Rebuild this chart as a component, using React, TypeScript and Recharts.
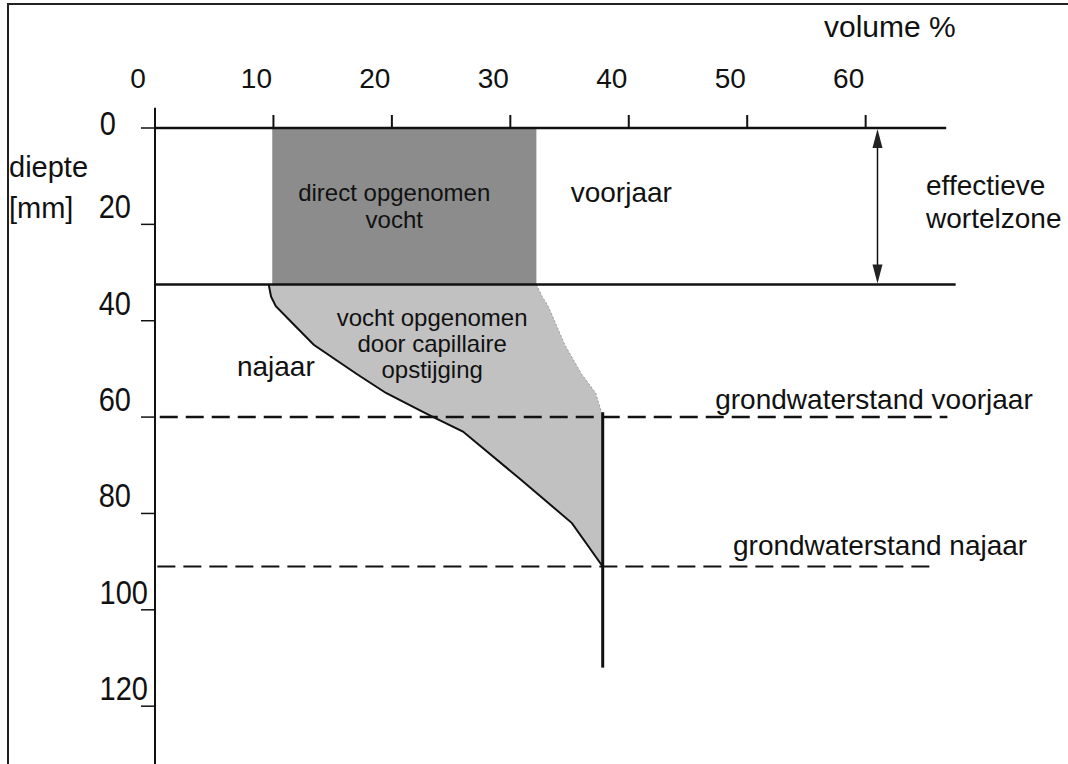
import {
  Area,
  ComposedChart,
  Line,
  ReferenceArea,
  ReferenceDot,
  ReferenceLine,
  XAxis,
  YAxis
} from "recharts";

// volume % (x) and depth in mm (y, downward)
const VOLUME_TICKS = [0, 10, 20, 30, 40, 50, 60];
const DEPTH_TICKS = [0, 20, 40, 60, 80, 100, 120];

const ROOT_ZONE_DEPTH = 32.5;
const DIRECT_LEFT = 9.9;
const DIRECT_RIGHT = 32.2;

// capillary rise zone: najaar (autumn) profile on the left, voorjaar (spring) edge on the right
const CAP_DEPTH = [32.5, 35, 37, 41, 45, 51, 55, 59, 60, 63, 73, 82, 91];
const NAJAAR_VOLUME = [9.6, 9.8, 10.2, 11.8, 13.4, 17.0, 19.5, 22.7, 23.5, 26.0, 30.9, 35.2, 37.8];
const VOORJAAR_VOLUME = [32.2, 32.7, 33.2, 33.9, 34.6, 36.0, 37.2, 37.7, 37.8, 37.8, 37.8, 37.8, 37.8];

const GW_VOORJAAR = 60;
const GW_NAJAAR = 91;
const SATURATED_VOLUME = 37.8;
const SATURATED_BOTTOM = 112;
const ROOT_ARROW_VOLUME = 61;

const FONT = "'Liberation Sans', Arial, sans-serif";
const DARK_GREY = "#8c8c8c";
const LIGHT_GREY = "#c1c1c1";

const capData = CAP_DEPTH.map((depth, i) => ({
  depth,
  najaar: NAJAAR_VOLUME[i],
  range: [NAJAAR_VOLUME[i], VOORJAAR_VOLUME[i]]
}));

const textShape =
  (lines: string[], size: number, anchor: "start" | "middle", gap: number, fill = "#111") =>
  (p: any) => (
    <text
      x={p.cx}
      y={p.cy}
      fontSize={size}
      fontFamily={FONT}
      textAnchor={anchor}
      fill={fill}
    >
      {lines.map((line, i) => (
        <tspan key={line} x={p.cx} dy={i === 0 ? 0 : gap}>
          {line}
        </tspan>
      ))}
    </text>
  );

const VolumeTick = ({ x, payload }: any) => (
  <text x={x - 17} y={88} textAnchor="middle" fontSize={28} fontFamily={FONT} fill="#111">
    {payload.value}
  </text>
);

const DepthTick = ({ y, payload }: any) => {
  const label = String(payload.value);
  const right = label.length === 1 ? 116 : label.length === 2 ? 131 : 148;
  const base = payload.value === 0 ? y + 7 : y - 6;
  return (
    <text
      transform={`translate(${right},${base}) scale(1,1.15)`}
      x={0}
      y={0}
      textAnchor="end"
      fontSize={29}
      fontFamily={FONT}
      fill="#111"
    >
      {label}
    </text>
  );
};

const DoubleArrow = ({ x1, y1, x2, y2 }: any) => (
  <g>
    <line x1={x1} y1={y1 + 16} x2={x2} y2={y2 - 16} stroke="#111" strokeWidth={1.5} />
    <polygon points={`${x1},${y1 + 1} ${x1 - 5},${y1 + 20} ${x1 + 5},${y1 + 20}`} fill="#222" />
    <polygon points={`${x2},${y2 - 1} ${x2 - 5},${y2 - 20} ${x2 + 5},${y2 - 20}`} fill="#222" />
  </g>
);

export default function App() {
  return (
    <div
      style={{
        position: "absolute",
        left: 0,
        top: 0,
        width: 1068,
        height: 764,
        overflow: "hidden",
        background: "#fff"
      }}
    >
      <div
        style={{
          position: "absolute",
          left: 7,
          top: 3,
          width: 1100,
          height: 800,
          borderLeft: "2px solid #222",
          borderTop: "2px solid #222"
        }}
      />
      <ComposedChart
        width={1068}
        height={764}
        layout="vertical"
        margin={{ top: 0, right: 1, bottom: 0, left: 0 }}
        style={{ position: "absolute", left: 0, top: 0 }}
      >
        <XAxis
          type="number"
          orientation="top"
          domain={[0, 77]}
          ticks={VOLUME_TICKS}
          height={128}
          axisLine={false}
          tickLine={{ stroke: "#111", strokeWidth: 2 }}
          tickSize={13}
          tick={<VolumeTick />}
          allowDataOverflow
          label={{
            content: () => (
              <text x={824} y={37} fontSize={30} fontFamily={FONT} fill="#111">
                volume %
              </text>
            )
          }}
        />
        <YAxis
          type="number"
          dataKey="depth"
          domain={[0, 132]}
          ticks={DEPTH_TICKS}
          width={155}
          axisLine={{ stroke: "#111", strokeWidth: 2 }}
          tickLine={{ stroke: "#111", strokeWidth: 1.5 }}
          tickSize={14}
          tick={<DepthTick />}
          allowDataOverflow
          label={{
            content: () => (
              <text fontSize={29} fontFamily={FONT} fill="#111">
                <tspan x={9} y={177}>diepte</tspan>
                <tspan x={9} y={218}>[mm]</tspan>
              </text>
            )
          }}
        />

        <ReferenceArea
          x1={DIRECT_LEFT}
          x2={DIRECT_RIGHT}
          y1={0}
          y2={ROOT_ZONE_DEPTH}
          fill={DARK_GREY}
          fillOpacity={1}
          stroke="none"
        />
        <Area
          data={capData}
          dataKey="range"
          type="linear"
          fill={LIGHT_GREY}
          fillOpacity={1}
          stroke="#9a9a9a"
          strokeWidth={1}
          strokeDasharray="2 2"
          isAnimationActive={false}
          dot={false}
          activeDot={false}
        />
        <Line
          data={capData}
          dataKey="najaar"
          type="linear"
          stroke="#111"
          strokeWidth={2}
          dot={false}
          activeDot={false}
          isAnimationActive={false}
        />

        <ReferenceLine
          segment={[{ x: 0, y: 0 }, { x: 66.8, y: 0 }]}
          stroke="#111"
          strokeWidth={2.5}
        />
        <ReferenceLine
          segment={[{ x: 0, y: -4.2 }, { x: 0, y: 0 }]}
          stroke="#111"
          strokeWidth={2}
          ifOverflow="visible"
        />
        <ReferenceLine
          segment={[{ x: 0, y: ROOT_ZONE_DEPTH }, { x: 67.6, y: ROOT_ZONE_DEPTH }]}
          stroke="#111"
          strokeWidth={2.5}
        />
        <ReferenceLine
          segment={[{ x: 0.4, y: GW_VOORJAAR }, { x: 66.9, y: GW_VOORJAAR }]}
          stroke="#111"
          strokeWidth={2.5}
          strokeDasharray="18 8"
        />
        <ReferenceLine
          segment={[{ x: 0.2, y: GW_NAJAAR }, { x: 65.6, y: GW_NAJAAR }]}
          stroke="#111"
          strokeWidth={2}
          strokeDasharray="18 8"
        />
        <ReferenceLine
          segment={[{ x: SATURATED_VOLUME, y: 59 }, { x: SATURATED_VOLUME, y: SATURATED_BOTTOM }]}
          stroke="#111"
          strokeWidth={3}
        />
        <ReferenceLine
          segment={[{ x: ROOT_ARROW_VOLUME, y: 0 }, { x: ROOT_ARROW_VOLUME, y: ROOT_ZONE_DEPTH }]}
          shape={<DoubleArrow />}
        />

        <ReferenceDot x={20.2} y={15.2} r={0} shape={textShape(["direct opgenomen", "vocht"], 24, "middle", 27)} />
        <ReferenceDot x={35.1} y={15.4} r={0} shape={textShape(["voorjaar"], 28, "start", 0)} />
        <ReferenceDot x={65.1} y={13.9} r={0} shape={textShape(["effectieve", "wortelzone"], 28, "start", 33)} />
        <ReferenceDot
          x={23.4}
          y={41.1}
          r={0}
          shape={textShape(["vocht opgenomen", "door capillaire", "opstijging"], 24, "middle", 26)}
        />
        <ReferenceDot x={10.2} y={51.5} r={0} shape={textShape(["najaar"], 28, "middle", 0)} />
        <ReferenceDot x={47.3} y={58.3} r={0} shape={textShape(["grondwaterstand voorjaar"], 28, "start", 0)} />
        <ReferenceDot x={48.8} y={88.6} r={0} shape={textShape(["grondwaterstand najaar"], 28, "start", 0)} />
      </ComposedChart>
    </div>
  );
}
